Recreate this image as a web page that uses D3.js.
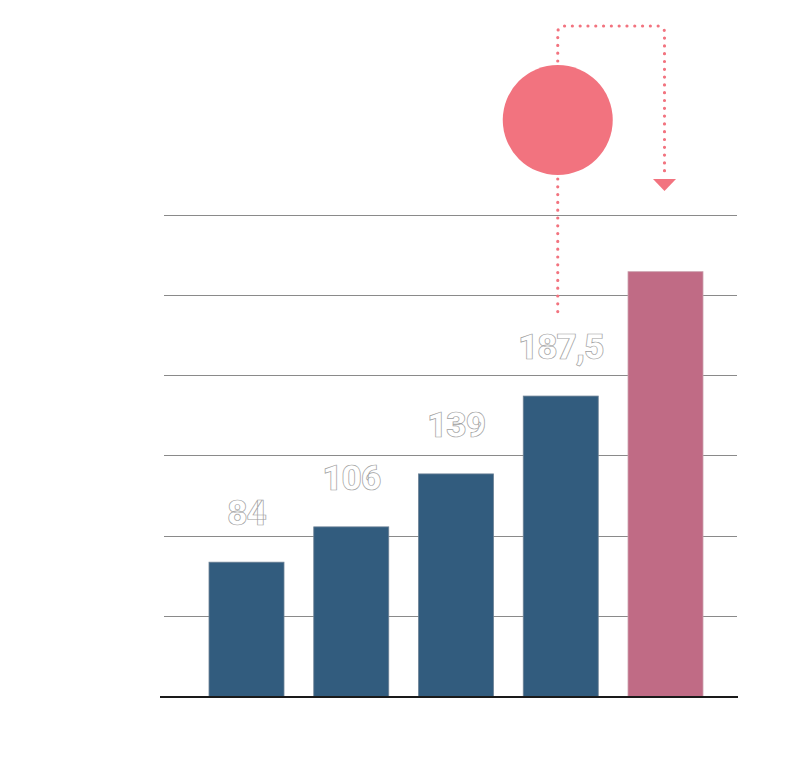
<!DOCTYPE html>
<html>
<head>
<meta charset="utf-8">
<script src="https://cdn.jsdelivr.net/npm/d3@7"></script>
<style>
  body { margin: 0; background: #fff; }
</style>
</head>
<body>
<div class="vis-bars"></div>
<script>
// chart data
var categories = ["A", "B", "C", "D", "E"];
var values = [84, 106, 139, 187.5, 265];
var labels = ["84", "106", "139", "187,5", ""];
var gridTicks = [50, 100, 150, 200, 250, 300];

var width = 808, height = 766;

var svg = d3.select(".vis-bars")
  .append("svg")
    .attr("width", width)
    .attr("height", height);

var x = d3.scaleBand()
  .domain(categories)
  .range([179.25, 732.75])
  .padding(0.284);

var y = d3.scaleLinear()
  .domain([0, 300])
  .range([697, 215.5]);

// grid lines
svg.append("g")
  .selectAll("line")
  .data(gridTicks)
  .enter()
  .append("line")
    .attr("x1", 164)
    .attr("x2", 737)
    .attr("y1", function (d) { return Math.round(y(d)) - 0.5; })
    .attr("y2", function (d) { return Math.round(y(d)) - 0.5; })
    .attr("stroke", "#8a8a8a")
    .attr("stroke-width", 1);

// bars
svg.append("g")
  .selectAll("rect")
  .data(values)
  .enter()
  .append("rect")
    .attr("x", function (d, i) { return x(categories[i]); })
    .attr("y", function (d) { return y(d); })
    .attr("width", x.bandwidth())
    .attr("height", function (d) { return y(0) - y(d); })
    .attr("fill", function (d, i) { return i == 4 ? "#c06b85" : "#325c7e"; })
    .attr("stroke", function (d, i) { return i == 4 ? "#caa0ad" : "#6d8296"; })
    .attr("stroke-width", 0.8);

// baseline
svg.append("line")
  .attr("x1", 160).attr("x2", 738)
  .attr("y1", y(0)).attr("y2", y(0))
  .attr("stroke", "#1a1a1a")
  .attr("stroke-width", 2);

// value labels (outlined)
svg.append("g")
  .selectAll("text")
  .data(values)
  .enter()
  .append("text")
    .attr("x", function (d, i) { return x(categories[i]) + x.bandwidth() / 2; })
    .attr("y", function (d) { return y(d) - 37; })
    .attr("text-anchor", "middle")
    .style("font-family", "Roboto, 'DejaVu Sans', sans-serif")
    .style("font-weight", "900")
    .style("font-size", "35px")
    .style("letter-spacing", "-1px")
    .attr("fill", "#fff")
    .attr("stroke", "#a0a0a0")
    .attr("stroke-width", 0.7)
    .text(function (d, i) { return labels[i]; });

// annotation: circle + dotted arrow from bar 4 to bar 5
var pink = "#f2737f";
var cx = x("D") + x.bandwidth() / 2 - 3;
var ax = x("E") + x.bandwidth() / 2 - 1;
var cy = 120, r = 55, topY = 26, rad = 6;

svg.append("line")
  .attr("x1", cx).attr("x2", cx)
  .attr("y1", cy + r + 4).attr("y2", 318)
  .attr("stroke", pink)
  .attr("stroke-width", 3.2)
  .attr("stroke-linecap", "round")
  .attr("stroke-dasharray", "0 7.8");

var path = d3.path();
path.moveTo(cx, cy - r - 4);
path.lineTo(cx, topY + rad);
path.arcTo(cx, topY, cx + rad, topY, rad);
path.lineTo(ax - rad, topY);
path.arcTo(ax, topY, ax, topY + rad, rad);
path.lineTo(ax, 176);

svg.append("path")
  .attr("d", path.toString())
  .attr("fill", "none")
  .attr("stroke", pink)
  .attr("stroke-width", 3.2)
  .attr("stroke-linecap", "round")
  .attr("stroke-dasharray", "0 7.8");

svg.append("path")
  .attr("d", "M" + (ax - 11.5) + ",179 L" + (ax + 11.5) + ",179 L" + ax + ",191 Z")
  .attr("fill", pink);

svg.append("circle")
  .attr("cx", cx)
  .attr("cy", cy)
  .attr("r", r)
  .attr("fill", pink);
</script>
</body>
</html>
